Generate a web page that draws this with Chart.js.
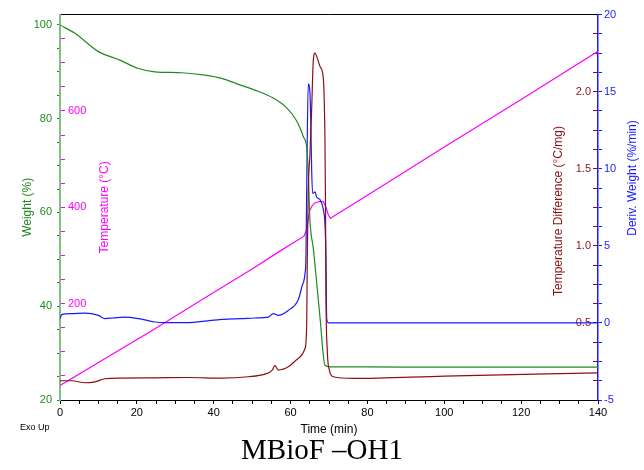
<!DOCTYPE html>
<html>
<head>
<meta charset="utf-8">
<script src="https://cdn.jsdelivr.net/npm/chart.js@4.4.0/dist/chart.umd.min.js"></script>
<style>
  html, body { margin: 0; padding: 0; background: #fff; }
</style>
</head>
<body>
<canvas id="tgaChart" width="644" height="470"></canvas>
<script>
// Weight (%) vs time
const timeWeight = [0, 3.9, 10, 15.6, 20.4, 24.7, 31.7, 37.7, 42.1, 46.8, 50.7, 55.5, 59, 61.6, 63.3, 64.2, 64.6, 65.05, 65.9, 66.8, 67.65, 68.95, 70.3, 80, 100, 120, 140];
const weightPct  = [100, 98.2, 94.3, 92.5, 90.7, 90.0, 89.8, 89.3, 88.6, 87.2, 86.1, 84.4, 82.3, 79.5, 76.2, 73.8, 68.8, 58.2, 52.5, 45.0, 37.7, 27.4, 27.07, 27.05, 27.0, 27.0, 27.0];

// Temperature (°C) vs time
const timeTemp = [0, 24.3, 36.9, 50, 57, 63.5, 64.2, 64.6, 65, 65.6, 66.3, 67.5, 68.5, 69.2, 69.8, 70.4, 71.1, 80, 100, 120, 140];
const tempC    = [30, 146, 208, 272, 308, 340, 354, 375, 394, 403, 409, 412, 412, 400, 385, 377, 381, 425, 525, 624, 724];

// Deriv. Weight (%/min) vs time
const timeDeriv   = [0, 0.5, 3, 6.5, 10, 11.7, 14, 16.9, 20.4, 24.7, 27.3, 33.4, 37.7, 42.1, 47.3, 50.7, 54.2, 55.5, 56.8, 59.4, 62, 63, 63.75, 64.0, 64.3, 64.6, 65.05, 65.3, 65.5, 65.75, 66.35, 66.8, 67.65, 68.5, 68.95, 69.2, 69.4, 69.8, 80, 100, 140];
const derivWeight = [0.28, 0.56, 0.60, 0.64, 0.49, 0.28, 0.33, 0.38, 0.28, 0.06, 0.02, 0.02, 0.12, 0.23, 0.28, 0.32, 0.38, 0.60, 0.49, 0.81, 1.5, 2.4, 3.2, 4.3, 11, 15.5, 14.9, 12.5, 9.8, 8.4, 8.5, 8.15, 8.0, 7.4, 6.4, 4.3, 0.3, 0.0, 0.0, 0.0, 0.0];

// Temperature Difference (°C/mg) vs time
const timeDiff = [0, 3, 6.5, 9.1, 11.7, 16, 24.7, 33.4, 42.1, 49, 53.3, 55.3, 55.9, 56.8, 59.4, 62, 63.75, 64.2, 64.35, 64.6, 65.05, 65.5, 65.9, 66.35, 66.8, 67.65, 68.35, 68.7, 68.95, 69.1, 69.2, 69.55, 70.1, 71.1, 76.3, 100, 140];
const tempDiff = [0.125, 0.125, 0.112, 0.118, 0.138, 0.142, 0.144, 0.146, 0.142, 0.151, 0.168, 0.195, 0.224, 0.194, 0.215, 0.269, 0.334, 0.495, 0.926, 1.357, 1.6, 1.895, 2.196, 2.25, 2.229, 2.164, 2.12, 2.0, 1.68, 1.227, 0.71, 0.323, 0.194, 0.151, 0.140, 0.155, 0.176];

// tick labels
const xTickLabels      = [0, 20, 40, 60, 80, 100, 120, 140];
const weightTickLabels = [20, 40, 60, 80, 100];
const tempTickLabels   = [200, 400, 600];
const diffTickLabels   = [0.5, 1.0, 1.5, 2.0];
const derivTickLabels  = [-5, 0, 5, 10, 15, 20];

const GREEN = '#1f8a1f';
const MAGENTA = '#ff00ff';
const BLUE = '#1a1aff';
const DARKRED = '#8b1010';

const zip = (xs, ys) => xs.map((x, i) => ({ x: x, y: ys[i] }));
const steps = (min, max, step) => {
    const out = [];
    for (let v = min; v <= max + 1e-9; v += step) out.push(+v.toFixed(4));
    return out;
};
const has = (list, v) => list.some(l => Math.abs(l - v) < 1e-6);

Chart.defaults.font.family = "'Liberation Sans', Arial, sans-serif";

// texts that Chart.js cannot place the way the instrument software does
const extraText = {
    id: 'extraText',
    afterDraw(chart) {
        const ctx = chart.ctx;
        const area = chart.chartArea;
        ctx.save();
        ctx.font = "9px 'Liberation Sans', Arial, sans-serif";
        ctx.fillStyle = '#000';
        ctx.textAlign = 'left';
        ctx.textBaseline = 'middle';
        ctx.fillText('Exo Up', 20, 428);

        ctx.font = "12px 'Liberation Sans', Arial, sans-serif";
        ctx.textAlign = 'center';
        ctx.fillStyle = DARKRED;
        ctx.translate(area.right - 39, 211);
        ctx.rotate(-Math.PI / 2);
        ctx.fillText('Temperature Difference (°C/mg)', 0, 0);
        ctx.restore();

        ctx.save();
        ctx.font = "12px 'Liberation Sans', Arial, sans-serif";
        ctx.textAlign = 'center';
        ctx.textBaseline = 'middle';
        ctx.fillStyle = BLUE;
        ctx.translate(633, 178);
        ctx.rotate(-Math.PI / 2);
        ctx.fillText('Deriv. Weight (%/min)', 0, 0);
        ctx.restore();
    }
};

new Chart(document.getElementById('tgaChart'), {
    type: 'line',
    data: {
        datasets: [
            { label: 'Temperature Difference', data: zip(timeDiff, tempDiff), yAxisID: 'yDiff', borderColor: DARKRED },
            { label: 'Weight', data: zip(timeWeight, weightPct), yAxisID: 'yWeight', borderColor: GREEN },
            { label: 'Deriv. Weight', data: zip(timeDeriv, derivWeight), yAxisID: 'yDeriv', borderColor: BLUE },
            { label: 'Temperature', data: zip(timeTemp, tempC), yAxisID: 'yTemp', borderColor: MAGENTA,
              cubicInterpolationMode: 'default', tension: 0 }
        ]
    },
    options: {
        responsive: false,
        animation: false,
        devicePixelRatio: 1,
        layout: { padding: { top: 13, left: 0, right: 0, bottom: 0 } },
        elements: {
            point: { radius: 0 },
            line: { borderWidth: 1.2, cubicInterpolationMode: 'monotone', fill: false }
        },
        plugins: {
            legend: { display: false },
            tooltip: { enabled: false },
            title: {
                display: true,
                position: 'bottom',
                text: 'MBioF \u2013OH1',
                color: '#000',
                font: { family: "'Liberation Serif', 'Times New Roman', serif", size: 29, weight: 'normal', lineHeight: 1 },
                padding: { top: 0, bottom: 4 }
            }
        },
        scales: {
            x: {
                type: 'linear', position: 'bottom', min: 0, max: 140,
                afterBuildTicks: s => { s.ticks = steps(0, 140, 5).map(v => ({ value: v })); },
                afterFit: s => { s.height = 37; },
                ticks: { autoSkip: false, maxRotation: 0, color: '#000', font: { size: 11 }, padding: 2,
                         callback: v => has(xTickLabels, v) ? v : '' },
                grid: { drawOnChartArea: false, tickLength: 4, tickColor: '#000' },
                border: { color: '#000', width: 1 },
                title: { display: true, text: 'Time (min)', color: '#000', font: { size: 12 }, padding: { top: 0, bottom: 0 } }
            },
            xTop: {
                type: 'linear', position: 'top', min: 0, max: 140,
                afterFit: s => { s.height = 0; },
                ticks: { display: false },
                grid: { display: false, drawTicks: false },
                border: { color: '#000', width: 1 }
            },
            yWeight: {
                type: 'linear', position: 'left', weight: 2, min: 20, max: 102.2,
                afterBuildTicks: s => { s.ticks = steps(20, 100, 5).map(v => ({ value: v })); },
                afterFit: s => { s.width = 60; },
                ticks: { autoSkip: false, color: GREEN, font: { size: 11 }, padding: 5,
                         callback: v => has(weightTickLabels, v) ? v : '' },
                grid: { drawOnChartArea: false, tickLength: 3, tickColor: GREEN },
                border: { color: '#80c080', width: 2 },
                title: { display: true, text: 'Weight (%)', color: GREEN, font: { size: 12 }, padding: { top: 20, bottom: 0 } }
            },
            yTemp: {
                type: 'linear', position: 'left', weight: 1, min: 0, max: 800,
                afterBuildTicks: s => { s.ticks = steps(50, 750, 50).map(v => ({ value: v })); },
                afterFit: s => { s.width = 0; },
                ticks: { autoSkip: false, mirror: true, color: MAGENTA, font: { size: 11 }, padding: 8,
                         callback: v => has(tempTickLabels, v) ? v : '' },
                grid: { drawOnChartArea: false, tickLength: -5, tickColor: MAGENTA },
                border: { display: false },
                title: { display: true, text: 'Temperature (°C)', color: MAGENTA, font: { size: 12 }, padding: { top: 37, bottom: 0 } }
            },
            yDiff: {
                type: 'linear', position: 'right', weight: 1, min: 0, max: 2.5,
                afterBuildTicks: s => { s.ticks = steps(0.125, 2.375, 0.125).map(v => ({ value: v })); },
                afterFit: s => { s.width = 0; },
                ticks: { autoSkip: false, mirror: true, color: DARKRED, font: { size: 11 }, padding: -7,
                         callback: v => has(diffTickLabels, v) ? v.toFixed(1) : '' },
                grid: { drawOnChartArea: false, tickLength: -5, tickColor: DARKRED },
                border: { display: false }
            },
            yDeriv: {
                type: 'linear', position: 'right', weight: 2, min: -5, max: 20,
                afterBuildTicks: s => { s.ticks = steps(-5, 20, 1.25).map(v => ({ value: v })); },
                afterFit: s => { s.width = 46; },
                ticks: { autoSkip: false, color: BLUE, font: { size: 11 }, padding: 2,
                         callback: v => has(derivTickLabels, v) ? v : '' },
                grid: { drawOnChartArea: false, tickLength: 4, tickColor: BLUE },
                border: { color: BLUE, width: 1.5 }
            }
        }
    },
    plugins: [extraText]
});
</script>
</body>
</html>
